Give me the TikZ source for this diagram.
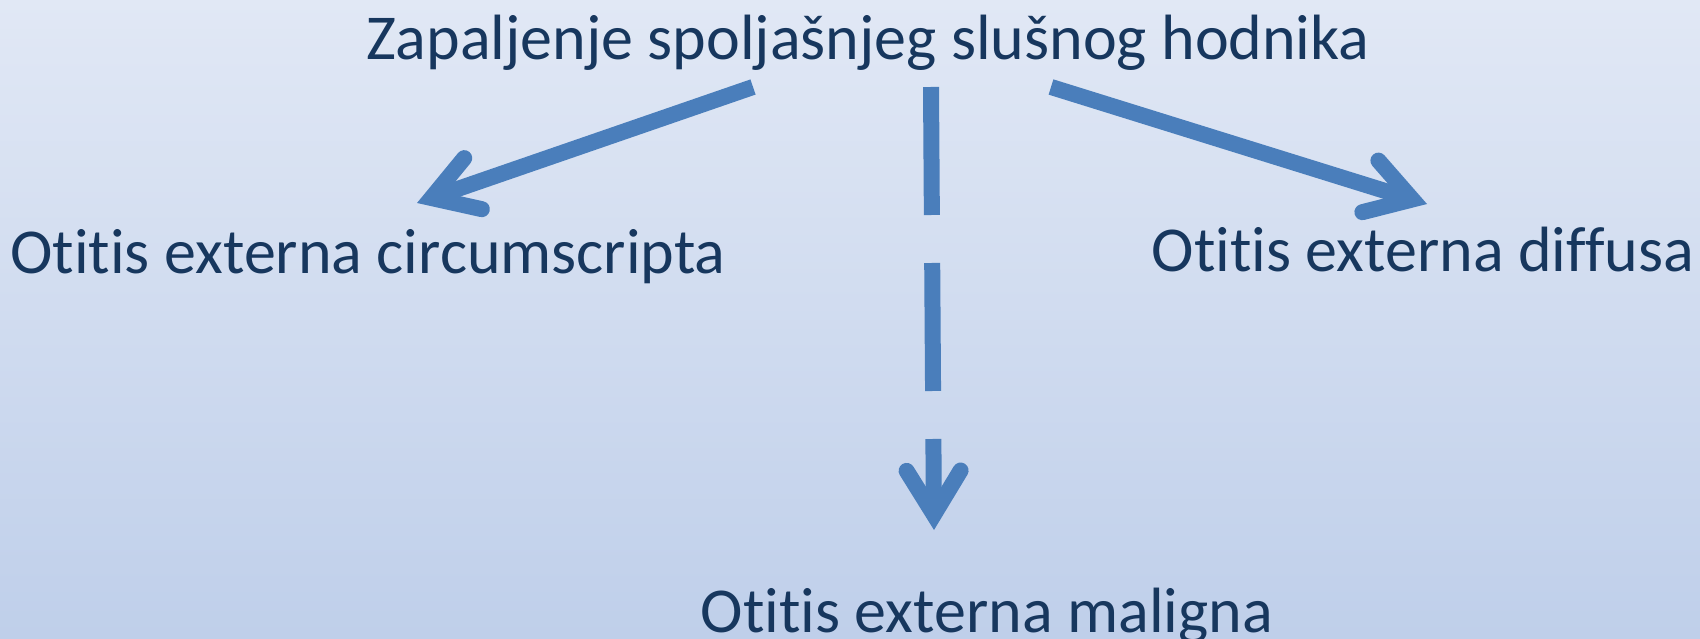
\documentclass[tikz,border=0pt]{standalone}
\usepackage{fontspec}
\setmainfont{Carlito}[Ligatures={NoCommon,NoRare,NoContextual}]
\usetikzlibrary{arrows.meta,calc}

\definecolor{bgtop}{HTML}{E1E8F5}
\definecolor{bgbottom}{HTML}{BFCFEA}
\definecolor{txtnavy}{HTML}{17375E}
\definecolor{arrowblue}{HTML}{4A7EBB}

\tikzset{
	term/.style={text=txtnavy, font=\fontsize{64}{77}\selectfont, inner sep=0pt, anchor=base},
	link/.style={draw=arrowblue, line width=16pt,
		-{Straight Barb[length=44pt,width=54pt,line cap=round,line join=miter]}},
	dashed link/.style={link, dash pattern=on 128pt off 48pt}
}

\begin{document}
\begin{tikzpicture}[x=1pt,y=-1pt]
	\shade[top color=bgtop,bottom color=bgbottom] (0,0) rectangle (1700,639);
	\useasboundingbox (0,0) rectangle (1700,639);
	% the four terms
	\node[term] (top) at (868,60) {Zapaljenje spoljašnjeg slušnog hodnika};
	\node[term] (circ) at (368,273) {Otitis externa circumscripta};
	\node[term] (diff) at (1423,271) {Otitis externa diffusa};
	\node[term] (mal) at (987,632) {Otitis externa maligna};
	% arrows
	\draw[link] ($(top.base)+(-115,27)$) -- ($(circ.base)+(49,-70)$);
	\draw[dashed link] ($(top.base)+(63,27)$) -- ($(mal.base)+(-53,-102)$);
	\draw[link] ($(top.base)+(183,27)$) -- ($(diff.base)+(4,-67)$);
\end{tikzpicture}
\end{document}
